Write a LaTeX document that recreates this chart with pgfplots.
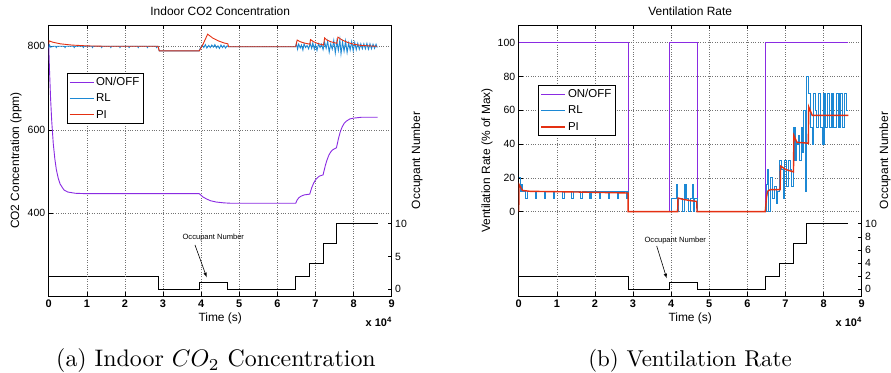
\documentclass[border=0pt]{standalone}
\usepackage{fontspec}
\usepackage{pgfplots}
\pgfplotsset{compat=1.18}
\usepackage{pgfplotstable}
\newfontfamily\hv{Liberation Sans}
\definecolor{cpurple}{RGB}{138,43,226}
\definecolor{cblue}{RGB}{28,136,212}
\definecolor{cred}{RGB}{228,48,18}

% ---------- occupant number (both panels) ----------
\pgfplotstableread{
t n
0 2
2.87 0
3.96 1
4.68 0
6.48 2
6.85 4
7.2 7
7.55 10
8.63 10
}\occ

% ---------- panel (a): CO2 ----------
\pgfplotstableread{
t v
0 805
0.02 746
0.05 674
0.08 620
0.12 567
0.16 531
0.2 505
0.25 484
0.3 470
0.4 456
0.5 451
0.7 448
1.0 447
3.95 447
4.05 439
4.15 434
4.25 430
4.4 427
4.6 425
4.8 424
6.48 424
6.52 432
6.56 437
6.62 441
6.7 444
6.85 446
6.87 452
6.9 461
6.95 472
7.0 480
7.05 485
7.1 489
7.2 492
7.22 500
7.26 515
7.3 527
7.35 539
7.4 547
7.45 552
7.55 557
7.57 565
7.6 578
7.65 595
7.7 607
7.75 615
7.8 620
7.9 626
8.0 628
8.2 630
8.63 630
}\coonoff

\pgfplotstableread{
t v
0 795
0.02 803
0.05 798
0.12 800
0.18 800
0.2 797
0.22 800
0.41 800
0.43 797
0.45 800
0.65 800
0.67 797
0.69 800
0.89 800
0.91 797
0.93 800
1.13 800
1.15 797
1.17 800
1.37 800
1.39 797
1.41 800
1.61 800
1.63 797
1.65 800
1.85 800
1.87 797
1.89 800
2.09 800
2.11 797
2.13 800
2.33 800
2.35 797
2.37 800
2.57 800
2.59 797
2.61 800
2.81 800
2.83 797
2.85 800
2.87 800
2.9 789
3.95 789
3.98 796
4.03 803
4.07 797
4.11 804
4.15 796
4.2 802
4.24 797
4.28 803
4.32 798
4.36 804
4.4 796
4.44 801
4.48 795
4.52 803
4.56 797
4.6 802
4.64 796
4.68 801
4.72 799
6.48 799
6.5 808
6.53 793
6.56 805
6.6 796
6.63 803
6.67 791
6.7 806
6.74 797
6.78 802
6.82 794
6.86 807
6.9 795
6.93 808
6.97 793
7.0 804
7.04 790
7.08 806
7.12 797
7.16 805
7.2 792
7.24 810
7.28 795
7.32 812
7.36 786
7.4 806
7.44 793
7.48 814
7.52 784
7.56 812
7.6 790
7.64 816
7.67 782
7.71 810
7.75 788
7.79 813
7.83 785
7.87 808
7.91 791
7.95 811
7.99 789
8.03 809
8.07 792
8.11 807
8.15 793
8.19 806
8.23 794
8.27 806
8.31 794
8.35 807
8.39 793
8.43 806
8.47 794
8.51 805
8.55 795
8.59 805
8.62 797
}\corl

\pgfplotstableread{
t v
0 805
0.01 813
0.1 810
0.3 806
0.6 803
1.0 801
1.5 800
2.87 800
2.9 789
3.95 789
4.05 805
4.17 829
4.3 820
4.45 813
4.6 808
4.7 806
4.72 799
6.48 799
6.52 815
6.6 811
6.7 808
6.85 805
6.87 816
6.95 811
7.05 807
7.21 803
7.24 820
7.3 815
7.4 811
7.56 807
7.59 822
7.7 815
7.85 809
8.0 805
8.2 802
8.4 801
8.62 800
}\copi

% ---------- panel (b): ventilation rate ----------
\pgfplotstableread{
t v
0 100
2.87 0
3.96 100
4.68 0
6.47 100
8.64 100
}\vonoff

\pgfplotstableread{
t v
0 20
0.04 12
0.08 16
0.11 12
0.19 8
0.23 12
0.43 8
0.47 12
0.67 8
0.71 12
0.91 8
0.95 12
1.15 8
1.19 12
1.39 8
1.43 12
1.63 8
1.67 12
1.87 8
1.91 12
2.11 8
2.15 12
2.35 8
2.39 12
2.59 8
2.63 12
2.83 8
2.86 12
2.87 0
4.0 8
4.14 16
4.17 0
4.2 8
4.3 0
4.36 16
4.39 8
4.45 0
4.5 8
4.56 16
4.59 0
4.62 8
4.68 0
6.5 16
6.53 25
6.56 0
6.6 20
6.66 8
6.72 15
6.76 5
6.8 12
6.85 30
6.9 25
6.95 8
6.98 30
7.03 15
7.07 30
7.12 25
7.16 15
7.2 50
7.25 30
7.29 40
7.33 45
7.37 30
7.41 50
7.45 35
7.48 60
7.53 12
7.56 80
7.61 70
7.65 50
7.7 40
7.73 70
7.78 60
7.82 50
7.87 70
7.92 50
7.98 40
8.01 70
8.06 50
8.11 70
8.16 50
8.22 70
8.27 50
8.33 70
8.38 50
8.43 70
8.49 50
8.55 70
8.6 60
8.64 60
}\vrl

\pgfplotstableread{
t v
0 0
0.01 16
0.1 12.5
0.3 12
1.5 11.6
2.87 11
2.87 0
4.17 0
4.18 8
4.3 7.3
4.5 6.5
4.67 6
4.68 0
6.47 0
6.5 8
6.53 12
6.6 13
6.86 13
6.87 27
7.0 25
7.21 23.5
7.22 45
7.3 41
7.6 40.5
7.61 62
7.7 57
8.65 57
}\vpi

\pgfplotsset{
  legend image code/.code={\draw[#1] (0bp,0bp) -- (24bp,0bp);},
  basex/.style={scale only axis, width=343bp, height=271bp, anchor=south west,
    xmin=0, xmax=9,
    /pgf/number format/assume math mode=true,
    tick align=inside, major tick length=4bp,
    every tick/.style={black, line width=0.5bp},
    yticklabel style={font=\hv\fontsize{10.5}{12}\selectfont},
  },
  mainax/.style={basex, axis line style={line width=0.9bp},
    xtick={0,...,9},
    xticklabel style={font=\hv\bfseries\fontsize{11}{13}\selectfont},
    xtick pos=both, ytick pos=left,
    grid=major, major grid style={dotted, black!55, line width=0.6bp},
    legend cell align=left,
    legend style={anchor=north west, draw=black, line width=0.8bp,
      font=\hv\fontsize{11.5}{13}\selectfont, inner xsep=2bp, inner ysep=2bp,
      row sep=3bp},
  },
  occax/.style={basex, axis x line=none, axis y line*=right,
    ymin=-1.02, ymax=40.3, ytick={0,5,10}, ytick pos=right,
    axis line style={draw=none}},
}

\begin{document}
\begin{tikzpicture}
\useasboundingbox (0,0) rectangle (891bp,373bp);

% ================= panel (a) =================
\begin{axis}[occax, at={(48.7bp,77bp)}]
  \addplot[black, line width=0.8bp, const plot] table[x=t,y=n] {\occ};
\end{axis}
\begin{axis}[mainax, at={(48.7bp,77bp)}, ymin=202, ymax=851, ytick={400,600,800},
  legend style={at={(0.0525,0.824)}}]
  \addplot[color=cpurple, line width=0.9bp] table[x=t,y=v] {\coonoff};
  \addlegendentry{ON/OFF}
  \addplot[color=cblue, line width=0.9bp] table[x=t,y=v] {\corl};
  \addlegendentry{RL}
  \addplot[color=cred, line width=0.9bp] table[x=t,y=v] {\copi};
  \addlegendentry{PI}
\end{axis}

% ================= panel (b) =================
\begin{axis}[occax, at={(518.7bp,77bp)}, ytick={0,2,4,6,8,10}]
  \addplot[black, line width=0.8bp, const plot] table[x=t,y=n] {\occ};
\end{axis}
\begin{axis}[mainax, at={(518.7bp,77bp)}, ymin=-50, ymax=110.5, ytick={0,20,40,60,80,100},
  legend style={at={(0.057,0.779)}}]
  \addplot[color=cpurple, line width=0.9bp, const plot] table[x=t,y=v] {\vonoff};
  \addlegendentry{ON/OFF}
  \addplot[color=cblue, line width=1.1bp, const plot] table[x=t,y=v] {\vrl};
  \addlegendentry{RL}
  \addplot[color=cred, line width=1.4bp] table[x=t,y=v] {\vpi};
  \addlegendentry{PI}
\end{axis}

% ================= texts =================
\begin{scope}[every node/.style={inner sep=0pt}]
\node[font=\hv\fontsize{12}{14}\selectfont, anchor=base] at (220.2bp,357.3bp) {Indoor CO2 Concentration};
\node[font=\hv\fontsize{12}{14}\selectfont, anchor=base] at (690.2bp,357.3bp) {Ventilation Rate};
\node[font=\hv\fontsize{12}{14}\selectfont, rotate=90] at (16bp,212.5bp) {CO2 Concentration (ppm)};
\node[font=\hv\fontsize{12}{14}\selectfont, rotate=90] at (417bp,212.5bp) {Occupant Number};
\node[font=\hv\fontsize{12}{14}\selectfont, rotate=90] at (487bp,212.5bp) {Ventilation Rate (\% of Max)};
\node[font=\hv\fontsize{12}{14}\selectfont, rotate=90] at (885bp,212.5bp) {Occupant Number};
\node[font=\hv\fontsize{12}{14}\selectfont, anchor=base] at (220.2bp,51.3bp) {Time (s)};
\node[font=\hv\fontsize{12}{14}\selectfont, anchor=base] at (690.2bp,51.3bp) {Time (s)};
\node[font=\hv\bfseries\fontsize{11}{13}\selectfont, anchor=base east] at (392bp,46.3bp) {x 10\textsuperscript{4}};
\node[font=\hv\bfseries\fontsize{11}{13}\selectfont, anchor=base east] at (862bp,46.3bp) {x 10\textsuperscript{4}};
\node[font=\hv\fontsize{7.6}{9}\selectfont] at (213.3bp,135.7bp) {Occupant Number};
\node[font=\hv\fontsize{7.6}{9}\selectfont] at (675.3bp,132.3bp) {Occupant Number};
\node[anchor=base] at (216bp,6.3bp) {\scalebox{2.4}{\fontsize{10}{12}\selectfont (a) Indoor $CO_2$ Concentration}};
\node[anchor=base] at (690bp,6.3bp) {\scalebox{2.3}{\fontsize{10}{12}\selectfont (b) Ventilation Rate}};
\end{scope}
\draw[-latex, line width=0.6bp] (195bp,128bp) -- (206.7bp,95.7bp);
\draw[-latex, line width=0.6bp] (656.7bp,127bp) -- (666.7bp,94.7bp);
\end{tikzpicture}
\end{document}
